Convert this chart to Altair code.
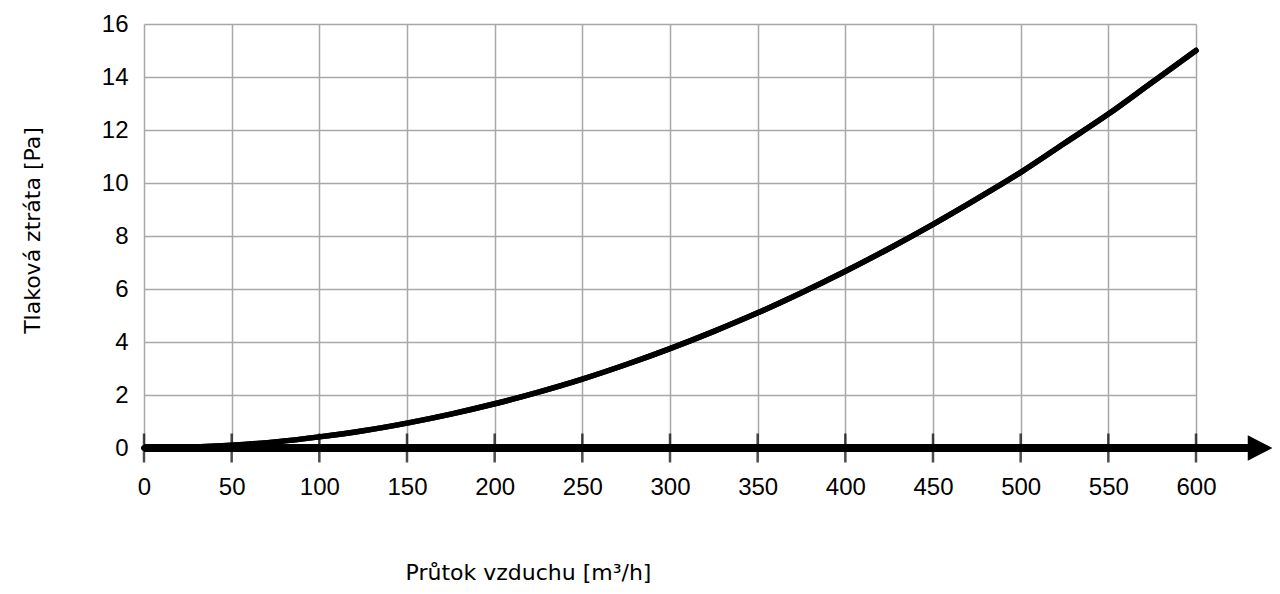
import altair as alt
import pandas as pd

# Data
flow = [0, 25, 50, 75, 100, 125, 150, 175, 200, 225, 250, 275, 300, 325, 350,
        375, 400, 425, 450, 475, 500, 525, 550, 575, 600]
loss = [0.0, 0.03, 0.1, 0.23, 0.42, 0.65, 0.94, 1.28, 1.67, 2.11, 2.6, 3.15,
        3.75, 4.4, 5.1, 5.86, 6.67, 7.53, 8.44, 9.4, 10.4, 11.5, 12.6, 13.8, 15.0]
x_ticks = [0, 50, 100, 150, 200, 250, 300, 350, 400, 450, 500, 550, 600]
y_ticks = [0, 2, 4, 6, 8, 10, 12, 14, 16]

curve = pd.DataFrame({"x": flow, "y": loss})
ticks = pd.DataFrame({"x": x_ticks, "y": [0] * len(x_ticks)})
arrow_line = pd.DataFrame({"x": [0], "x2": [631], "y": [0]})
arrow_head = pd.DataFrame({"x": [636.5], "y": [0]})

W, H = 1052, 424
FONT_LBL = "Liberation Sans"
FONT_TTL = "DejaVu Sans"

xs = alt.Scale(domain=[0, 600], nice=False, zero=False)
ys = alt.Scale(domain=[0, 16], nice=False)

base_x = alt.X("x:Q", scale=xs, axis=alt.Axis(
    values=x_ticks, grid=True, gridColor="#a8a8a8", gridWidth=1.5,
    domain=False, ticks=False, labelPadding=27, labelFontSize=24,
    labelFont=FONT_LBL, labelColor="#000000", labelFlush=False,
    title="Průtok vzduchu [m³/h]", titleFont=FONT_TTL, titleFontSize=22,
    titleFontWeight="normal", titleColor="#000000",
    titleX=384, titleY=124, titleBaseline="middle", titleAlign="center"))
base_y = alt.Y("y:Q", scale=ys, axis=alt.Axis(
    values=y_ticks, grid=True, gridColor="#a8a8a8", gridWidth=1.5,
    domain=False, ticks=False, labelPadding=16, labelFontSize=24,
    labelFont=FONT_LBL, labelColor="#000000", labelBaseline="middle",
    title="Tlaková ztráta  [Pa]", titleFont=FONT_TTL, titleFontSize=22,
    titleFontWeight="normal", titleColor="#000000", titleAngle=270,
    titleX=-112, titleY=206, titleBaseline="middle", titleAlign="center"))

line_axis = alt.Chart(arrow_line).mark_rule(color="black", strokeWidth=8).encode(
    x=alt.X("x:Q", scale=xs), x2="x2:Q", y=alt.Y("y:Q", scale=ys))

head = alt.Chart(arrow_head).mark_point(
    shape="M-1,-1.05L1,0L-1,1.05Z", filled=True, color="black", opacity=1,
    size=600, strokeWidth=0).encode(
    x=alt.X("x:Q", scale=xs), y=alt.Y("y:Q", scale=ys))

tick_marks = alt.Chart(ticks).mark_tick(
    orient="vertical", color="black", size=29, thickness=2.5).encode(
    x=alt.X("x:Q", scale=xs), y=alt.Y("y:Q", scale=ys))

curve_line = alt.Chart(curve).mark_line(
    color="black", strokeWidth=5.5, interpolate="monotone", strokeCap="round").encode(
    x=base_x, y=base_y)

chart = alt.layer(curve_line, line_axis, tick_marks, head, curve_line).properties(
    width=W, height=H,
    autosize=alt.AutoSizeParams(type="none"),
    padding={"left": 136, "top": 16, "right": 76, "bottom": 138},
).configure_view(strokeWidth=0)

chart.save("out.html", embed_options={"renderer": "svg", "actions": False})
